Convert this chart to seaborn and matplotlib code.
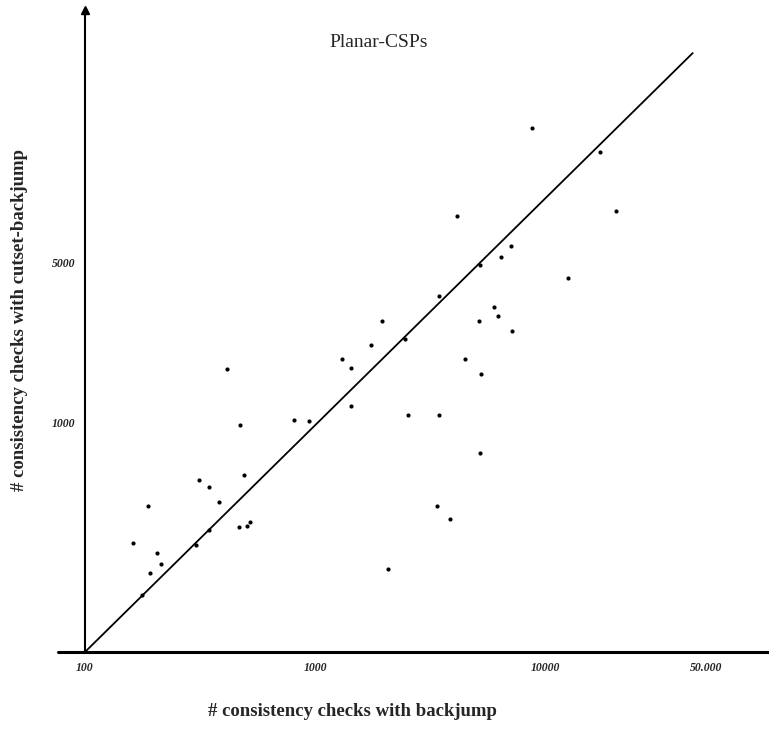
import numpy as np
import pandas as pd
import matplotlib
matplotlib.use("Agg")
import matplotlib.pyplot as plt
import seaborn as sns

# consistency checks: backjump (x) vs cutset-backjump (y)
backjump = [8810, 4130, 20300, 7130, 6460, 5210, 12600, 3470, 5980, 6270,
            5160, 7210, 1950, 1760, 2460, 1310, 1440, 4470, 5260, 414,
            1430, 807, 942, 2530, 3470, 473, 5210, 492, 312, 347,
            381, 187, 3390, 3860, 345, 466, 508, 524, 304, 161,
            205, 213, 192, 2080, 177, 17300]
cutset_backjump = [19100, 7960, 8380, 5850, 5260, 4840, 4270, 3560, 3190, 2920,
                   2760, 2510, 2780, 2180, 2310, 1900, 1730, 1900, 1630, 1710,
                   1180, 1030, 1020, 1080, 1080, 979, 740, 589, 564, 521,
                   451, 433, 431, 380, 341, 350, 354, 367, 294, 299,
                   270, 242, 222, 230, 178, 15100]

# reference line endpoints
line_x = [100, 43900]
line_y = [100, 40700]

x_ticks = [100, 1000, 10000, 50000]
x_tick_labels = ["100", "1000", "10000", "50.000"]
y_ticks = [1000, 5000]
y_tick_labels = ["1000", "5000"]

df = pd.DataFrame({"bj": backjump, "cbj": cutset_backjump})
line_df = pd.DataFrame({"x": line_x, "y": line_y})

sns.set_style("white")
plt.rcParams['font.family'] = ['Liberation Serif', 'DejaVu Serif']

fig = plt.figure(figsize=(7.69, 7.32), dpi=100)
ax = fig.add_axes([85 / 769, 80 / 732, 683 / 769, 642 / 732])

sns.lineplot(data=line_df, x="x", y="y", color="black", linewidth=1.3, ax=ax)
sns.scatterplot(data=df, x="bj", y="cbj", color="black", s=9, edgecolor="black",
                linewidth=0, ax=ax)

ax.set_xscale("log")
ax.set_yscale("log")
ax.set_xlim(100, 93300)
ax.set_ylim(100, 62700)

ax.set_xticks(x_ticks)
ax.set_xticklabels(x_tick_labels, fontsize=8.5, fontweight="bold", fontstyle="italic")
ax.set_yticks(y_ticks)
ax.set_yticklabels(y_tick_labels, fontsize=8.5, fontweight="bold", fontstyle="italic")
ax.xaxis.set_minor_locator(matplotlib.ticker.NullLocator())
ax.yaxis.set_minor_locator(matplotlib.ticker.NullLocator())
ax.tick_params(axis="both", length=3, width=1, color="black", pad=4, direction="out")
ax.set_xlabel("")
ax.set_ylabel("")

for s in ["top", "right"]:
    ax.spines[s].set_visible(False)
ax.spines["bottom"].set_linewidth(2.2)
ax.spines["left"].set_linewidth(1.5)
ax.spines["bottom"].set_color("black")
ax.spines["left"].set_color("black")

# extend the x axis a little to the left of the y axis, arrow on top of y axis
ax.plot([-0.04, 0], [0, 0], transform=ax.transAxes, color="black", linewidth=2.2,
        clip_on=False)
ax.plot([0], [1], marker="^", color="black", markersize=6, transform=ax.transAxes,
        clip_on=False)

fig.text(352 / 769, 1 - 712 / 732, "# consistency checks with backjump",
         fontsize=13.5, fontweight="bold", ha="center", va="center")
fig.text(20 / 769, 1 - 320 / 732, "# consistency checks with cutset-backjump",
         fontsize=13.5, fontweight="bold", ha="center", va="center", rotation=90)
ax.text(0.43, 0.95, "Planar-CSPs", transform=ax.transAxes, fontsize=14,
        ha="center", va="center")

fig.savefig("out.png", dpi=100)
